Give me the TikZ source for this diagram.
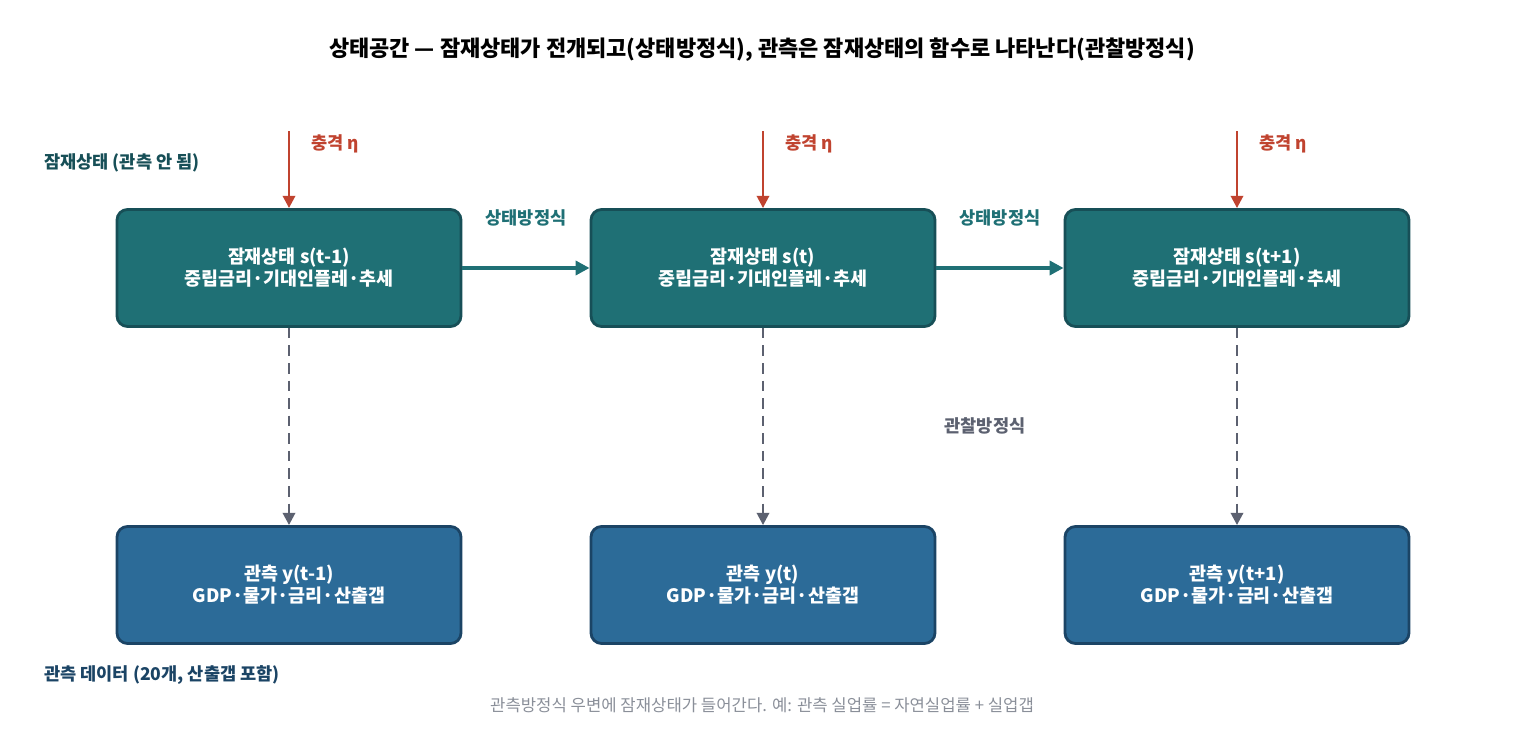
\documentclass[tikz,border=0pt]{standalone}
\usepackage{fontspec}
\setmainfont{Noto Sans CJK KR}
\usepackage{tikz}
\usetikzlibrary{arrows.meta,positioning,calc}
\definecolor{latfill}{HTML}{1F7075}
\definecolor{latline}{HTML}{174F57}
\definecolor{obsfill}{HTML}{2C6B98}
\definecolor{obsline}{HTML}{1B4465}
\definecolor{shockred}{HTML}{C0432F}
\definecolor{obsgray}{HTML}{5C6170}
\definecolor{noteGray}{HTML}{8A8F99}
\tikzset{
  latent/.style={draw=latline, fill=latfill, line width=1.6pt, rounded corners=6pt,
    minimum width=344*0.02cm, minimum height=117*0.02cm, align=center,
    text=white, font=\fontsize{10.5}{12.5}\selectfont\bfseries},
  observed/.style={latent, draw=obsline, fill=obsfill},
  shock/.style={draw=shockred, line width=1.5pt, -{Triangle[length=7pt,width=7pt]}},
  stateeq/.style={draw=latfill, line width=2pt, -{Triangle[length=8pt,width=8pt]}},
  measeq/.style={draw=obsgray, line width=1.5pt, dash pattern=on 6pt off 4pt, -{Triangle[length=7pt,width=7pt]}},
  lbl/.style={font=\fontsize{10}{12}\selectfont\bfseries}
}
\begin{document}
\begin{tikzpicture}[x=0.02cm,y=-0.02cm]
  \useasboundingbox (0,0) rectangle (1525,742);

  \node[font=\fontsize{12.5}{15}\selectfont\bfseries] (title) at (762,50)
    {상태공간 — 잠재상태가 전개되고(상태방정식), 관측은 잠재상태의 함수로 나타난다(관찰방정식)};

  % latent states
  \node[latent] (s1) at (289,268) {잠재상태 s(t-1)\\중립금리·기대인플레·추세};
  \node[latent] (s2) at (763,268) {잠재상태 s(t)\\중립금리·기대인플레·추세};
  \node[latent] (s3) at (1237,268) {잠재상태 s(t+1)\\중립금리·기대인플레·추세};

  % observations
  \node[observed] (y1) at (289,585) {관측 y(t-1)\\GDP·물가·금리·산출갭};
  \node[observed] (y2) at (763,585) {관측 y(t)\\GDP·물가·금리·산출갭};
  \node[observed] (y3) at (1237,585) {관측 y(t+1)\\GDP·물가·금리·산출갭};

  % shocks
  \foreach \n in {1,2,3} {
    \coordinate (e\n) at ($(s\n.north)+(0,-77)$);
    \draw[shock] (e\n) -- (s\n.north);
    \node[lbl, text=shockred, anchor=west] (eta\n) at ($(e\n)+(16,13)$) {충격 η};
    \draw[measeq] (s\n.south) -- (y\n.north);
  }

  \draw[stateeq] (s1) -- (s2);
  \draw[stateeq] (s2) -- (s3);
  \node[lbl, text=latfill] (se1) at (526,218) {상태방정식};
  \node[lbl, text=latfill] (se2) at (1000,218) {상태방정식};
  \node[lbl, text=obsgray] (me) at (985,426) {관찰방정식};

  \node[lbl, text=latline, anchor=west] (lat) at (38,163) {잠재상태 (관측 안 됨)};
  \node[lbl, text=obsline, anchor=west] (obs) at (38,675) {관측 데이터 (20개, 산출갭 포함)};
  \node[text=noteGray, font=\fontsize{9.5}{11}\selectfont] (note) at (762,705)
    {관측방정식 우변에 잠재상태가 들어간다. 예: 관측 실업률 = 자연실업률 + 실업갭};
\end{tikzpicture}
\end{document}
